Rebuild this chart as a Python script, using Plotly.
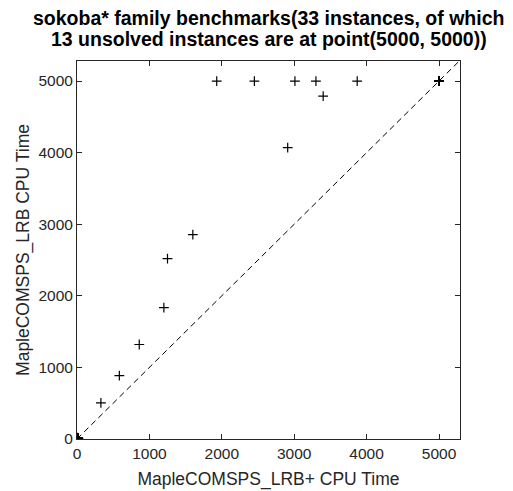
import plotly.graph_objects as go

# Data
x_vals = [0, 5, 10, 15, 20, 8, 12,
          330, 585, 860, 1200, 1250, 1600,
          1930, 2450, 3010, 3300, 3870, 3400, 2910] + [5000] * 13
y_vals = [0, 8, 4, 15, 10, 20, 2,
          505, 885, 1320, 1835, 2520, 2855,
          5000, 5000, 5000, 5000, 5000, 4790, 4070] + [5000] * 13
diag = [0, 5300]
ticks = [0, 1000, 2000, 3000, 4000, 5000]
title_lines = ["sokoba* family benchmarks(33 instances, of which",
               "13 unsolved instances are at point(5000, 5000))"]

fig = go.Figure()
fig.add_trace(go.Scatter(x=diag, y=diag, mode="lines",
                         line=dict(color="black", width=1, dash="6px,4px"),
                         hoverinfo="skip", showlegend=False))
fig.add_trace(go.Scatter(x=x_vals, y=y_vals, mode="markers",
                         marker=dict(symbol="cross-thin", size=7,
                                     line=dict(color="black", width=1.2)),
                         showlegend=False))

fam = "Liberation Sans, Arial, sans-serif"
tickfont = dict(family=fam, size=15.5, color="#262626")
labfont = dict(family=fam, size=17.5, color="#262626")
axis_common = dict(tickvals=ticks, ticks="inside", ticklen=5,
                   tickcolor="#262626", showline=True, linecolor="#262626",
                   linewidth=1, mirror="ticks", showgrid=False, zeroline=False,
                   tickfont=tickfont, automargin=False)

for i, line in enumerate(title_lines):
    fig.add_annotation(text="<b>" + line + "</b>", xref="paper", yref="paper",
                       x=0.5, y=1.0, yshift=43 - 21 * i, xanchor="center",
                       yanchor="middle", showarrow=False,
                       font=dict(family=fam, size=19.5, color="black"))

fig.update_layout(
    width=505, height=483,
    margin=dict(l=69, r=53, t=53, b=52, autoexpand=False),
    paper_bgcolor="white", plot_bgcolor="white",
    xaxis=dict(axis_common, range=[0, 5290],
               title=dict(text="MapleCOMSPS_LRB+ CPU Time", font=labfont, standoff=12)),
    yaxis=dict(axis_common, range=[0, 5280],
               title=dict(text="MapleCOMSPS_LRB CPU Time", font=labfont, standoff=4)),
)
fig.write_html("out.html")
